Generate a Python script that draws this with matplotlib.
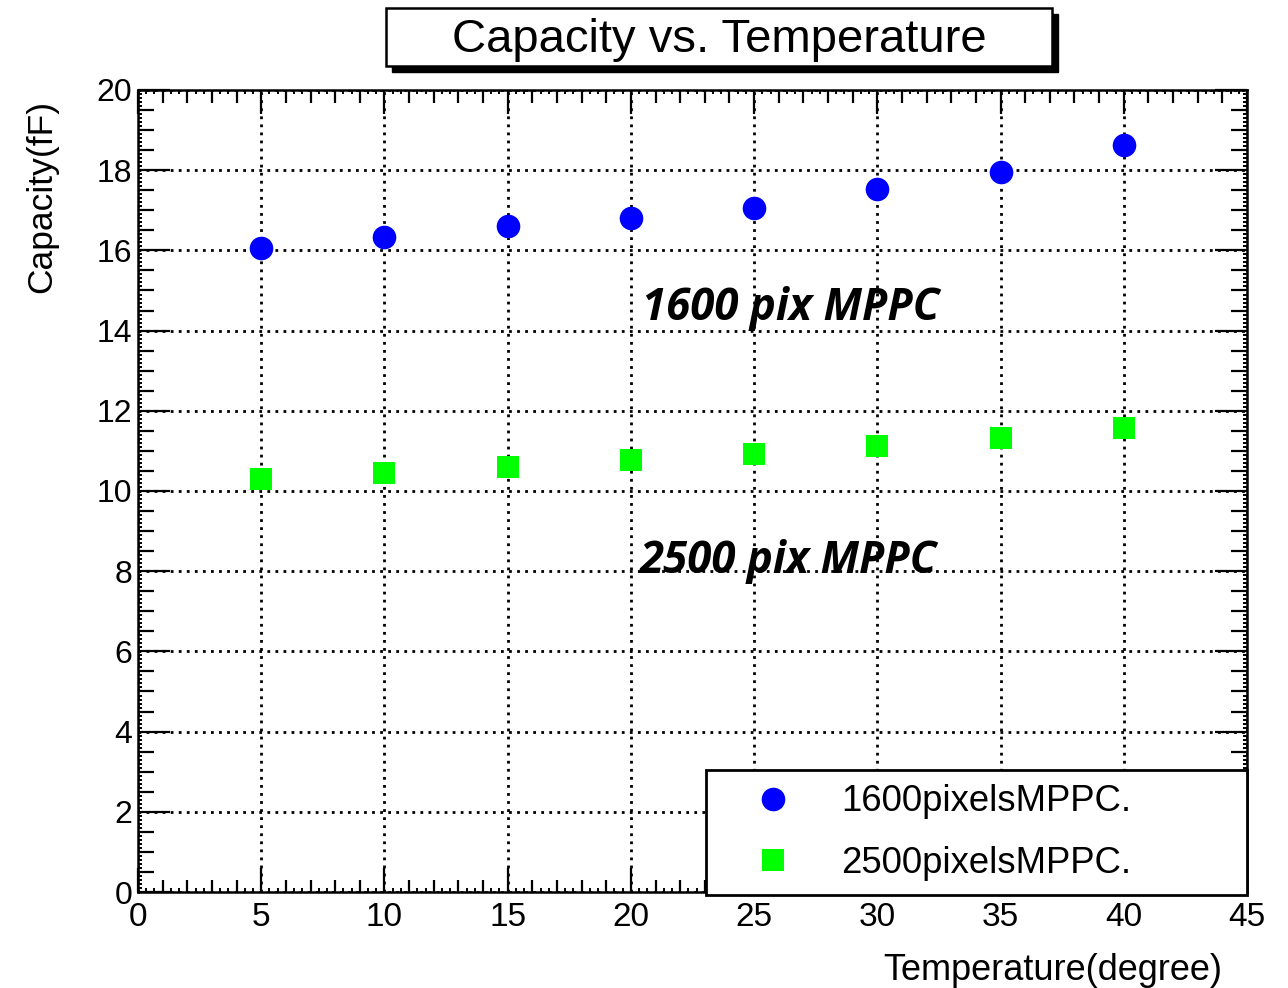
import matplotlib
matplotlib.use("Agg")
import matplotlib.pyplot as plt
from matplotlib.ticker import MultipleLocator
from matplotlib.patches import Rectangle

# ---- data ----
temperature = [5, 10, 15, 20, 25, 30, 35, 40]
cap_1600 = [16.06, 16.33, 16.61, 16.81, 17.06, 17.53, 17.96, 18.63]
cap_2500 = [10.30, 10.45, 10.60, 10.77, 10.92, 11.12, 11.32, 11.57]
label_1600 = "1600pixelsMPPC."
label_2500 = "2500pixelsMPPC."
title = "Capacity vs. Temperature"
xlabel = "Temperature(degree)"
ylabel = "Capacity(fF)"
note_1600 = "1600 pix MPPC"
note_2500 = "2500 pix MPPC"

plt.rcParams['font.family'] = ['Liberation Sans', 'DejaVu Sans']

W, H = 1288, 988
fig = plt.figure(figsize=(W / 100, H / 100), dpi=100)
ax = fig.add_axes([138 / W, 1 - 892 / H, (1247 - 138) / W, (892 - 90) / H])

ax.set_xlim(0, 45)
ax.set_ylim(0, 20)

ax.xaxis.set_major_locator(MultipleLocator(5))
ax.xaxis.set_minor_locator(MultipleLocator(1))
ax.yaxis.set_major_locator(MultipleLocator(2))
ax.yaxis.set_minor_locator(MultipleLocator(0.5))

ax.grid(True, which='major', color='black', linestyle=(0, (1, 1.9)), linewidth=2.0, zorder=1)
ax.set_axisbelow(True)

for s in ax.spines.values():
    s.set_linewidth(1.8)
    s.set_color('black')

ax.tick_params(which='both', direction='in', top=True, right=True, color='black', width=1.6)
ax.tick_params(axis='x', which='major', length=17, labelsize=24, pad=7)
ax.tick_params(axis='x', which='minor', length=9)
ax.tick_params(axis='y', which='major', length=23, labelsize=23, pad=4)
ax.tick_params(axis='y', which='minor', length=11.5)

# tertiary tiny ticks
for loc in ('bottom', 'top'):
    sec = ax.secondary_xaxis(loc)
    sec.xaxis.set_major_locator(MultipleLocator(1 / 3))
    sec.tick_params(direction='in', length=3, width=1.4, labelbottom=False, labeltop=False)
    for s in sec.spines.values():
        s.set_visible(False)
for loc in ('left', 'right'):
    sec = ax.secondary_yaxis(loc)
    sec.yaxis.set_major_locator(MultipleLocator(0.1))
    sec.tick_params(direction='in', length=3, width=1.4, labelleft=False, labelright=False)
    for s in sec.spines.values():
        s.set_visible(False)

ax.plot(temperature, cap_1600, linestyle='none', marker='o', markersize=17,
        color='#0000ff', markeredgewidth=0, label=label_1600, zorder=3)
ax.plot(temperature, cap_2500, linestyle='none', marker='s', markersize=15.5,
        color='#00ff00', markeredgewidth=0, label=label_2500, zorder=3)

ax.set_xlabel(xlabel, fontsize=26, loc='right')
ax.xaxis.set_label_coords(0.9775, -0.076)
ax.set_ylabel(ylabel, fontsize=25.5, loc='top')
ax.yaxis.set_label_coords(-0.072, 0.988)

ann_font = dict(family=['Open Sans', 'DejaVu Sans'], fontweight='bold', fontstyle='italic', fontsize=31.5)
ax.text(20.45, 14.55, note_1600, ha='left', va='center', zorder=4, **ann_font)
ax.text(20.35, 8.25, note_2500, ha='left', va='center', zorder=4, **ann_font)

leg = ax.legend(loc='lower left', bbox_to_anchor=(0.512, -0.004, 0.488, 0.15), mode='expand',
                fontsize=26.3, frameon=True, fancybox=False, borderpad=0.4,
                handlelength=2.9, handletextpad=0.4, labelspacing=0.72,
                borderaxespad=0, markerscale=1.0)
leg.get_frame().set_edgecolor('black')
leg.get_frame().set_linewidth(2.0)
leg.get_frame().set_alpha(1)
leg.set_zorder(5)

# title box with shadow
bx0, by0, bx1, by1 = 386, 8, 1052, 66
off = 6
fig.patches.append(Rectangle(((bx0 + off) / W, 1 - (by1 + off) / H), (bx1 - bx0) / W, (by1 - by0) / H,
                             transform=fig.transFigure, facecolor='black', edgecolor='black', zorder=1))
fig.patches.append(Rectangle((bx0 / W, 1 - by1 / H), (bx1 - bx0) / W, (by1 - by0) / H,
                             transform=fig.transFigure, facecolor='white', edgecolor='black',
                             linewidth=1.8, zorder=2))
fig.text((bx0 + bx1) / 2 / W, 1 - 40 / H, title, ha='center', va='center', fontsize=34, zorder=3)

fig.savefig("out.png", dpi=100)
